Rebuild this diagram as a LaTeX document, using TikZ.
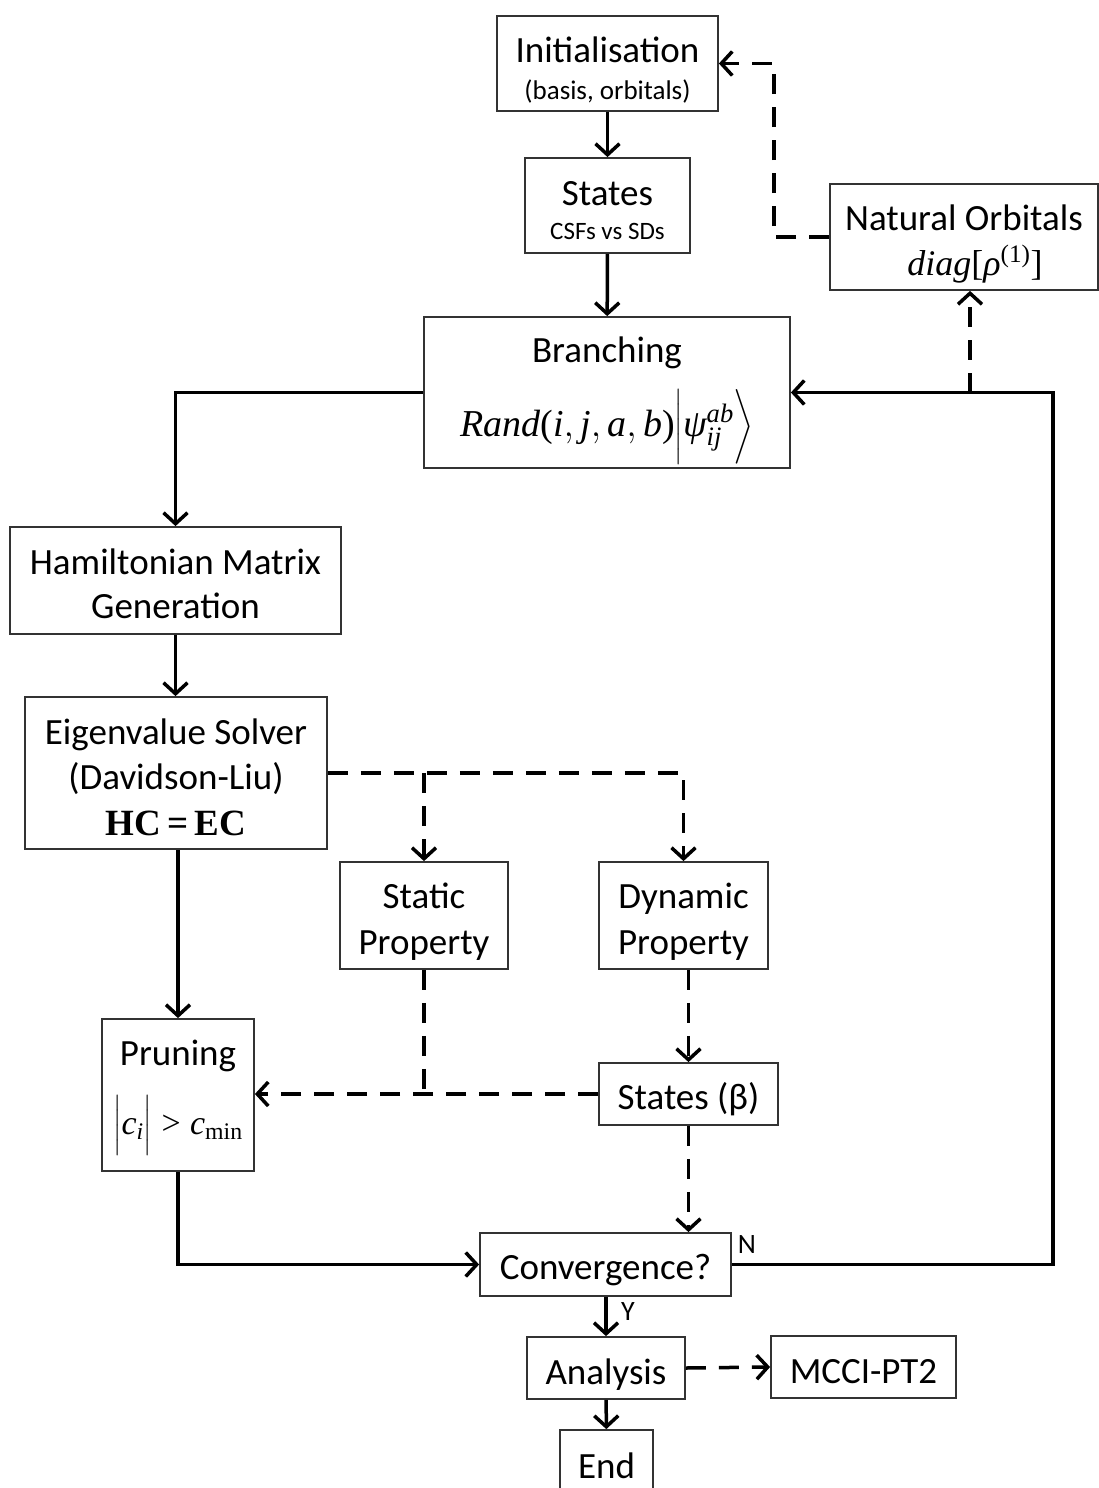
\RequirePackage{fix-cm}
\documentclass[tikz,border=0pt]{standalone}
\usepackage{amsmath}
\usepackage{fontspec}
\setmainfont{Carlito}
\newfontfamily\timesfam{Liberation Serif}
\newcommand{\ti}[1]{\text{\timesfam\itshape #1}}
\newcommand{\tu}[1]{\text{\timesfam #1}}
\usetikzlibrary{arrows.meta}

\begin{document}
\begin{tikzpicture}[x=1pt,y=-1pt,
  box/.style={draw=black!80, line width=1.8pt, inner sep=0pt},
  txt/.style={inner sep=0pt, align=center, font=\fontsize{37}{44}\selectfont},
  tip/.style={-{Straight Barb[length=11pt,width=24pt,line width=3.5pt]}},
  flow/.style={line width=3.5pt, tip},
  dflow/.style={line width=3.5pt, dash pattern=on 20pt off 13pt, tip},
  dlink/.style={line width=3.5pt, dash pattern=on 20pt off 13pt},
  lbl/.style={font=\fontsize{28}{32}\selectfont, inner sep=0pt}]

\useasboundingbox (0,0) rectangle (1099,1488);
\clip (0,0) rectangle (1099,1488);

% boxes and their texts
\node[box, minimum width=221pt, minimum height=95pt] (init) at (607.5,63.5) {};
\node[txt, font=\fontsize{37}{37}\selectfont] (initT) at ([yshift=-7pt]init.center)
  {Initialisation\\{\fontsize{27}{32}\selectfont (basis, orbitals)}};

\node[box, minimum width=165pt, minimum height=95pt] (states) at (607.5,205.5) {};
\node[txt, font=\fontsize{37}{34}\selectfont] (statesT) at ([yshift=-5pt]states.center)
  {States\\{\fontsize{25}{30}\selectfont CSFs vs SDs}};

\node[box, minimum width=268pt, minimum height=106pt] (nat) at (964,237) {};
\node[txt, font=\fontsize{37}{45}\selectfont] (natT) at ([yshift=-7pt]nat.center)
  {Natural Orbitals\\{\fontsize{36}{42}\selectfont \hspace*{22pt}$\ti{diag}\tu{[}\ti{ρ}^{\tu{(1)}}\tu{]}$}};

\node[box, minimum width=366pt, minimum height=151pt] (branch) at (607,392.5) {};
\node[txt, font=\fontsize{37}{74}\selectfont] (branchT) at ([yshift=6pt]branch.center)
  {Branching\\{\fontsize{38}{51}\selectfont \smash{$\ti{Rand}\tu{(}\ti{i},\ti{j},\ti{a},\ti{b}\tu{)}\Bigl|\ti{ψ}^{\ti{ab}}_{\ti{ij}}\Bigr\rangle$}}};

\node[box, minimum width=331pt, minimum height=107pt] (ham) at (175.5,580.5) {};
\node[txt] (hamT) at ([yshift=-3pt]ham.center) {Hamiltonian Matrix\\Generation};

\node[box, minimum width=302pt, minimum height=152pt] (eig) at (176,773) {};
\node[txt, font=\fontsize{37}{45.5}\selectfont] (eigT) at ([yshift=-4pt]eig.center)
  {Eigenvalue Solver\\(Davidson-Liu)\\{\timesfam\bfseries\fontsize{37}{44}\selectfont HC\,=\,EC}};

\node[box, minimum width=168pt, minimum height=107pt] (static) at (424,915.5) {};
\node[txt, font=\fontsize{37}{46}\selectfont] (staticT) at ([yshift=-6pt]static.center) {Static\\Property};

\node[box, minimum width=169pt, minimum height=107pt] (dyn) at (683.5,915.5) {};
\node[txt, font=\fontsize{37}{46}\selectfont] (dynT) at ([yshift=-6pt]dyn.center) {Dynamic\\Property};

\node[box, minimum width=152pt, minimum height=152pt] (prune) at (178,1095) {};
\node[txt, font=\fontsize{37}{69}\selectfont] (pruneT) at ([yshift=8pt]prune.center)
  {Pruning\\{\fontsize{34}{38}\selectfont \smash{$\Bigl|\ti{c}_{\ti{i}}\Bigr| \mathrel{\tu{>}} \ti{c}_{\tu{min}}$}}};

\node[box, minimum width=179pt, minimum height=62pt] (statesb) at (688.5,1094) {};
\node[txt] (statesbT) at ([yshift=-5pt]statesb.center) {States (β)};

\node[box, minimum width=251pt, minimum height=63pt] (conv) at (605.5,1264.5) {};
\node[txt] (convT) at ([yshift=-6pt]conv.center) {Convergence?};

\node[box, minimum width=158pt, minimum height=62pt] (anal) at (606,1368) {};
\node[txt] (analT) at ([yshift=-7pt]anal.center) {Analysis};

\node[box, minimum width=185pt, minimum height=62pt] (mcci) at (863.5,1367) {};
\node[txt] (mcciT) at ([yshift=-5pt]mcci.center) {MCCI-PT2};

\node[box, minimum width=93pt, minimum height=64pt] (end) at (606.5,1462) {};
\node[txt] (endT) at ([yshift=-4pt]end.center) {End};

% helper corners
\coordinate (rc) at (1053,392.5);
\coordinate (nb) at (970,392.5);
\coordinate (lk) at (774,63.5);

% solid flow
\draw[flow] (init) -- (states);
\draw[flow] (states) -- (branch);
\draw[flow] (branch.west) -| (ham.north);
\draw[flow] (ham) -- (ham |- eig.north);
\draw[flow] (eig.south -| prune.north) -- (prune.north);
\draw[flow] (prune.south) |- (conv.west);
\draw[flow] (conv.east) -| (rc) -- (branch.east);
\draw[flow] (conv.south -| anal.north) -- (anal.north);
\draw[flow] (anal) -- (end);

% dashed flow
\draw[dflow] (eig.east) -| (dyn.north);
\draw[dflow] (eig.east -| static.north) -- (static.north);
\draw[dlink] (static.south) -- (static.south |- statesb.west);
\draw[dflow] (statesb.west) -- (statesb.west -| prune.east);
\draw[dflow] (dyn.south -| statesb.north) -- (statesb.north);
\draw[dflow] (statesb.south) -- (statesb.south |- conv.north);
\draw[dflow] (nb) -- (nb |- nat.south);
\draw[dflow] (nat.west) -| (lk) -- (init.east);
\draw[dflow] (anal.east) -- (mcci.west);

% branch labels
\node[lbl] (nlabel) at (747,1245) {N};
\node[lbl] (ylabel) at (628,1312) {Y};
\end{tikzpicture}
\end{document}
